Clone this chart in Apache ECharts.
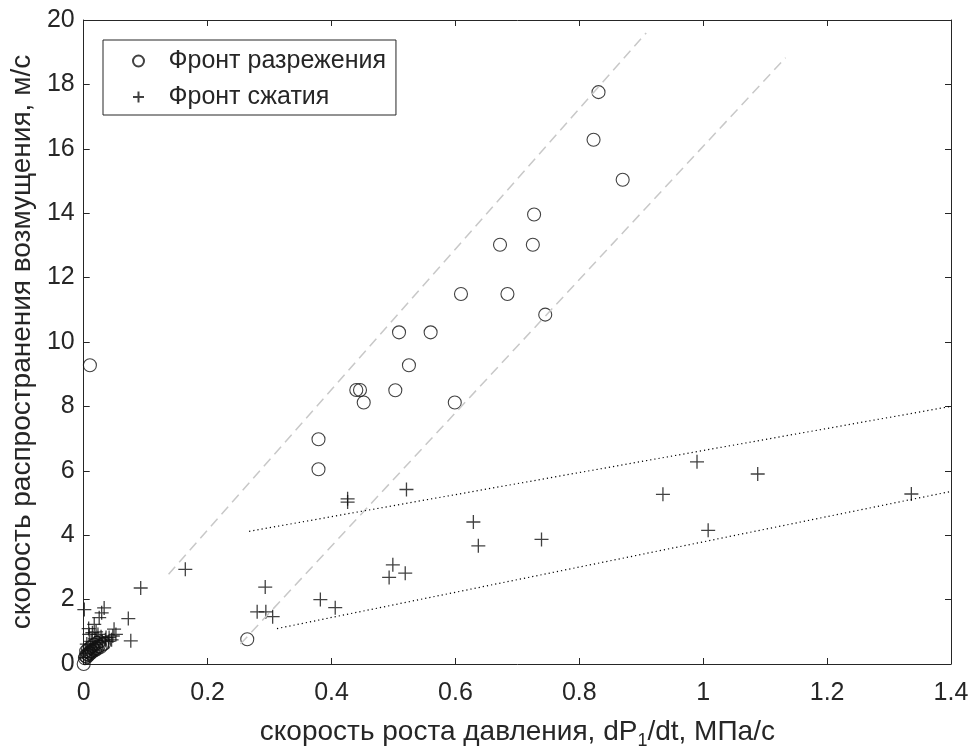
<!DOCTYPE html>
<html>
<head>
<meta charset="utf-8">
<script src="https://cdn.jsdelivr.net/npm/echarts@6/dist/echarts.min.js"></script>
<style>
html,body{margin:0;padding:0;background:#fff;}
#chart{width:974px;height:755px;}
</style>
</head>
<body>
<div id="chart"></div>
<script>
// ---- data ----
const xTicks = [0, 0.2, 0.4, 0.6, 0.8, 1, 1.2, 1.4];
const yTicks = [0, 2, 4, 6, 8, 10, 12, 14, 16, 18, 20];

const rarefactionName = 'Фронт разрежения';
const rarefactionX = [0.010, 0.264, 0.831, 0.823, 0.870, 0.727, 0.672, 0.725, 0.609, 0.684, 0.745,
  0.509, 0.560, 0.525, 0.440, 0.446, 0.452, 0.503, 0.599, 0.379, 0.379,
  0.000, 0.002, 0.003, 0.005, 0.006, 0.008, 0.009, 0.011, 0.012, 0.014, 0.016, 0.018, 0.020,
  0.022, 0.024, 0.027, 0.030, 0.033, 0.004, 0.007, 0.010, 0.013, 0.017, 0.021, 0.025];
const rarefactionY = [9.28, 0.77, 17.76, 16.28, 15.04, 13.96, 13.02, 13.02, 11.49, 11.49, 10.85,
  10.30, 10.30, 9.28, 8.51, 8.51, 8.12, 8.50, 8.12, 6.98, 6.05,
  0.00, 0.18, 0.25, 0.22, 0.30, 0.28, 0.36, 0.33, 0.41, 0.38, 0.45, 0.43, 0.50,
  0.47, 0.55, 0.53, 0.60, 0.63, 0.40, 0.45, 0.50, 0.55, 0.60, 0.65, 0.70];

const compressionName = 'Фронт сжатия';
const compressionX = [0.521, 0.426, 0.426, 0.629, 0.637, 0.739, 0.499, 0.493, 0.519, 0.293, 0.382,
  0.406, 0.280, 0.294, 0.305, 0.990, 1.088, 0.935, 1.008, 1.336, 0.164, 0.092, 0.072, 0.076,
  0.001, 0.033, 0.029, 0.025, 0.017, 0.014, 0.049, 0.052, 0.041, 0.009, 0.023, 0.036, 0.047,
  0.003, 0.006, 0.010, 0.015, 0.020, 0.025, 0.030, 0.035, 0.040, 0.045, 0.005, 0.012, 0.018,
  0.028, 0.008, 0.020];
const compressionY = [5.42, 5.13, 5.03, 4.41, 3.67, 3.87, 3.08, 2.69, 2.82, 2.39, 2.00,
  1.75, 1.62, 1.62, 1.47, 6.28, 5.90, 5.27, 4.15, 5.28, 2.94, 2.36, 1.41, 0.72,
  1.69, 1.74, 1.59, 1.44, 1.23, 0.97, 1.08, 0.92, 0.82, 0.92, 0.92, 0.82, 0.87,
  0.20, 0.32, 0.45, 0.52, 0.60, 0.66, 0.72, 0.75, 0.70, 0.75, 0.62, 0.70, 0.78,
  0.85, 1.10, 1.00];

// guide lines (end points)
const dashUpperX = [0.137, 0.908], dashUpperY = [2.79, 19.6];
const dashLowerX = [0.253, 1.133], dashLowerY = [0.62, 18.83];
const dotUpperX = [0.267, 1.4], dotUpperY = [4.12, 8.0];
const dotLowerX = [0.312, 1.4], dotLowerY = [1.10, 5.36];

// ---- build ----
const zip = (xs, ys) => xs.map((x, i) => [x, ys[i]]);
const FONT = "'Liberation Sans', Arial, sans-serif";
const INK = '#262626';
const crossPath = 'path://M0,7 L14,7 M7,0 L7,14';

const chart = echarts.init(document.getElementById('chart'), null, {renderer: 'canvas'});

const axisCommon = {
  type: 'value',
  axisLine: {show: true, onZero: false, lineStyle: {color: INK, width: 1}},
  axisTick: {show: true, inside: true, length: 6, lineStyle: {color: INK}},
  splitLine: {show: false}
};

const option = {
  backgroundColor: '#fff',
  animation: false,
  textStyle: {fontFamily: FONT},
  grid: {left: 81, right: 23, top: 20, bottom: 85, containLabel: false},
  xAxis: [
    Object.assign({}, axisCommon, {
      min: xTicks[0], max: xTicks[xTicks.length - 1], interval: 0.2,
      position: 'bottom',
      axisLabel: {show: true, color: INK, fontSize: 25, fontFamily: FONT, margin: 17},
      name: '{a|скорость роста давления, dP}{s|1}{a|/dt, МПа/с}',
      nameLocation: 'middle', nameGap: 50,
      nameTextStyle: {
        color: INK, fontFamily: FONT,
        rich: {
          a: {fontSize: 28, fontFamily: FONT, color: INK, lineHeight: 36, verticalAlign: 'middle'},
          s: {fontSize: 18, fontFamily: FONT, color: INK, lineHeight: 18, verticalAlign: 'bottom'}
        }
      }
    }),
    Object.assign({}, axisCommon, {
      min: xTicks[0], max: xTicks[xTicks.length - 1], interval: 0.2,
      position: 'top', axisLabel: {show: false}
    })
  ],
  yAxis: [
    Object.assign({}, axisCommon, {
      min: yTicks[0], max: yTicks[yTicks.length - 1], interval: 2,
      position: 'left',
      axisLabel: {show: true, color: INK, fontSize: 25, fontFamily: FONT, margin: 9},
      name: 'скорость распространения возмущения, м/с',
      nameLocation: 'middle', nameGap: 44,
      nameTextStyle: {color: INK, fontSize: 28, fontFamily: FONT}
    }),
    Object.assign({}, axisCommon, {
      min: yTicks[0], max: yTicks[yTicks.length - 1], interval: 2,
      position: 'right', axisLabel: {show: false}
    })
  ],
  legend: {
    orient: 'vertical',
    left: 103, top: 40,
    padding: [8, 10, 5, 29],
    itemGap: 10,
    itemWidth: 50, itemHeight: 11,
    borderColor: INK, borderWidth: 1,
    backgroundColor: '#fff',
    textStyle: {fontSize: 25, fontFamily: FONT, color: INK, lineHeight: 26},
    data: [
      {name: rarefactionName, icon: 'circle'},
      {name: compressionName, icon: crossPath}
    ]
  },
  series: [
    {
      type: 'line', name: 'dashUpper', data: zip(dashUpperX, dashUpperY),
      showSymbol: false, silent: true,
      lineStyle: {color: '#c8c8c8', width: 1.5, type: [10, 6]}
    },
    {
      type: 'line', name: 'dashLower', data: zip(dashLowerX, dashLowerY),
      showSymbol: false, silent: true,
      lineStyle: {color: '#c8c8c8', width: 1.5, type: [10, 6]}
    },
    {
      type: 'line', name: 'dotUpper', data: zip(dotUpperX, dotUpperY),
      showSymbol: false, silent: true,
      lineStyle: {color: '#000', width: 1.2, type: [1.2, 3]}
    },
    {
      type: 'line', name: 'dotLower', data: zip(dotLowerX, dotLowerY),
      showSymbol: false, silent: true,
      lineStyle: {color: '#000', width: 1.2, type: [1.2, 3]}
    },
    {
      type: 'scatter', name: rarefactionName, data: zip(rarefactionX, rarefactionY),
      symbol: 'circle', symbolSize: 13,
      itemStyle: {color: 'rgba(0,0,0,0)', borderColor: '#111', borderWidth: 1.1}
    },
    {
      type: 'scatter', name: compressionName, data: zip(compressionX, compressionY),
      symbol: crossPath, symbolSize: 14, symbolKeepAspect: true,
      itemStyle: {color: 'rgba(0,0,0,0)', borderColor: '#111', borderWidth: 1.3}
    }
  ]
};
chart.setOption(option);
</script>
</body>
</html>
